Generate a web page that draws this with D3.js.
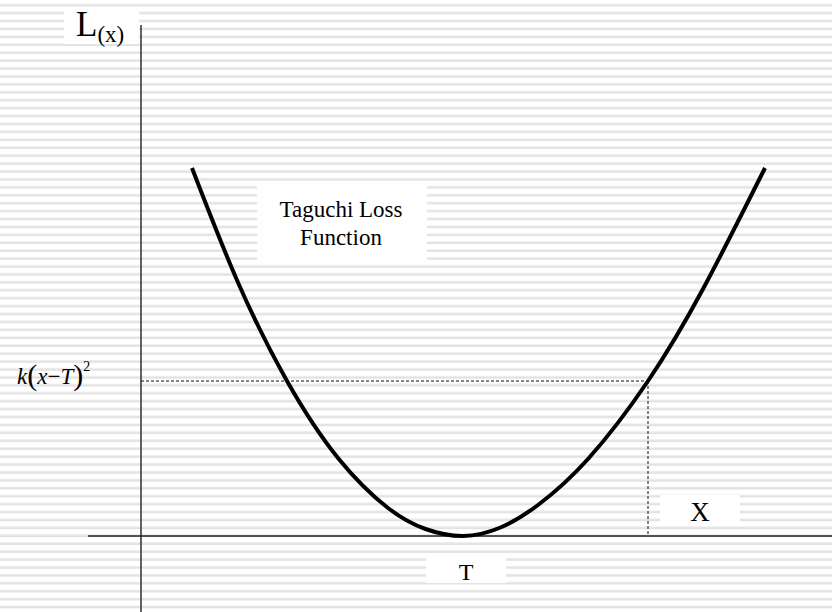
<!DOCTYPE html>
<html>
<head>
<meta charset="utf-8">
<script src="https://cdn.jsdelivr.net/npm/d3@7"></script>
<style>
  html, body { margin: 0; padding: 0; background: #fff; }
  svg { display: block; }
</style>
</head>
<body>
<svg id="chart" width="832" height="612"></svg>
<script>
// curve (x relative to target T, loss value)
var curveX = [-5.42, -4.5, -3.52, -2.5, -1.5, -0.75, 0, 0.75, 1.5, 2.5, 3.70, 4.8, 6.04];
var curveY = [7.36, 5.07, 3.10, 1.56, 0.56, 0.14, 0, 0.17, 0.62, 1.54, 3.10, 4.94, 7.36];

// the marked point x and its loss k(x-T)^2
var markX = [3.70];
var markY = [3.10];

var axisX = [-7.5, 7.38];
var axisY = [-1.52, 10.22];

var serif = '"Liberation Serif", "Times New Roman", Times, serif';

var width = 832, height = 612;
var svg = d3.select('#chart');

var x = d3.scaleLinear().domain([-6.44, 7.38]).range([141, 832]);
var y = d3.scaleLinear().domain([0, 10.22]).range([536, 25]);

// striped background
var defs = svg.append('defs');
var pat = defs.append('pattern')
    .attr('id', 'stripes')
    .attr('patternUnits', 'userSpaceOnUse')
    .attr('width', 10)
    .attr('height', 7.92)
    .attr('y', 0.5);
pat.append('rect').attr('width', 10).attr('height', 7.92).attr('fill', '#fff');
pat.append('rect').attr('y', 3.2).attr('width', 10).attr('height', 1).attr('fill', '#ebebeb');
pat.append('rect').attr('y', 4.2).attr('width', 10).attr('height', 1.6).attr('fill', '#dedede');

svg.append('rect')
    .attr('width', width)
    .attr('height', height)
    .attr('fill', 'url(#stripes)');

// white label boxes
function box(x0, y0, w, h) {
    svg.append('rect')
        .attr('x', x0).attr('y', y0)
        .attr('width', w).attr('height', h)
        .attr('fill', '#fff');
}
box(64, 7, 75, 37);
box(257, 183, 170, 79);
box(426, 558, 80, 25);
box(660, 495, 80, 27);

// axes
svg.append('line')
    .attr('x1', x(axisX[0])).attr('x2', x(axisX[1]))
    .attr('y1', y(0)).attr('y2', y(0))
    .attr('stroke', '#222').attr('stroke-width', 1.4);
svg.append('line')
    .attr('x1', x(-6.44)).attr('x2', x(-6.44))
    .attr('y1', y(axisY[1])).attr('y2', y(axisY[0]))
    .attr('stroke', '#222').attr('stroke-width', 1.4);

// dashed guides
markX.forEach(function (mx, i) {
    var my = markY[i];
    svg.append('line')
        .attr('x1', x(-6.44)).attr('x2', x(mx))
        .attr('y1', y(my)).attr('y2', y(my))
        .attr('stroke', '#111').attr('stroke-width', 1)
        .attr('stroke-dasharray', '3,2');
    svg.append('line')
        .attr('x1', x(mx)).attr('x2', x(mx))
        .attr('y1', y(my)).attr('y2', y(0))
        .attr('stroke', '#111').attr('stroke-width', 1)
        .attr('stroke-dasharray', '3,2');
});

// loss curve
var pts = curveX.map(function (d, i) { return [d, curveY[i]]; });
var line = d3.line()
    .x(function (d) { return x(d[0]); })
    .y(function (d) { return y(d[1]); })
    .curve(d3.curveNatural);
svg.append('path')
    .datum(pts)
    .attr('d', line)
    .attr('fill', 'none')
    .attr('stroke', '#000')
    .attr('stroke-width', 4);

// labels
function label(px, py, size) {
    return svg.append('text')
        .attr('x', px).attr('y', py)
        .attr('font-family', serif)
        .attr('font-size', size)
        .attr('fill', '#000');
}

var lx = label(76, 36, 35);
lx.append('tspan').text('L');
lx.append('tspan').attr('font-size', 23).attr('dy', 6).text('(x)');

label(341, 217, 23).attr('text-anchor', 'middle').text('Taguchi Loss');
label(341, 245, 23).attr('text-anchor', 'middle').text('Function');

label(x(0) + 3, 580, 24).attr('text-anchor', 'middle').text('T');
label(700, 521, 27).attr('text-anchor', 'middle').text('X');

var kt = label(17, 384, 23);
kt.append('tspan').attr('font-style', 'italic').text('k');
kt.append('tspan').attr('font-size', 30).attr('dy', 1).text('(');
kt.append('tspan').attr('font-style', 'italic').attr('dy', -1).text('x');
kt.append('tspan').text('\u2212');
kt.append('tspan').attr('font-style', 'italic').text('T');
kt.append('tspan').attr('font-size', 30).attr('dy', 1).text(')');
kt.append('tspan').attr('font-size', 14).attr('dy', -14).text('2');
</script>
</body>
</html>
